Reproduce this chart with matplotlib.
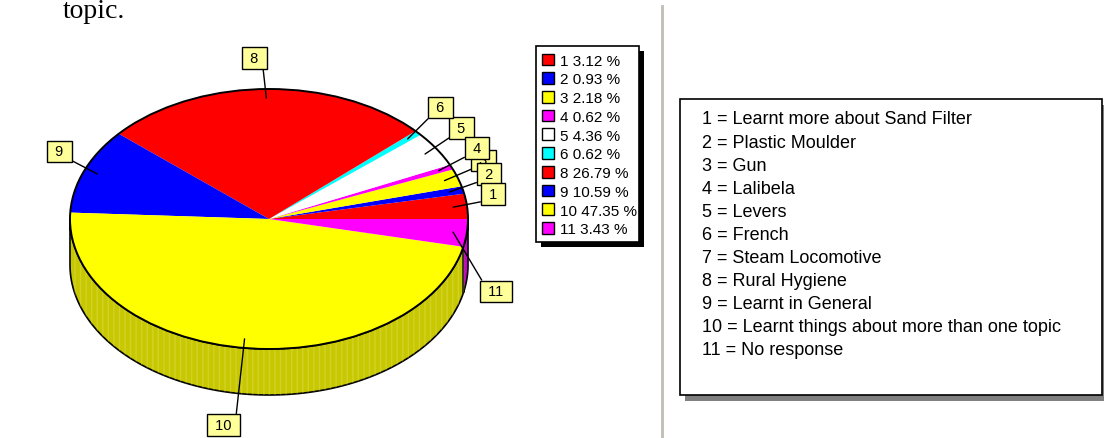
import matplotlib
matplotlib.use("Agg")
import matplotlib.pyplot as plt
from matplotlib.patches import Patch, Rectangle, Circle, Polygon
import numpy as np

# ---------------- data ----------------
codes = ["1", "2", "3", "4", "5", "6", "8", "9", "10", "11"]
percent = [3.12, 0.93, 2.18, 0.62, 4.36, 0.62, 26.79, 10.59, 47.35, 3.43]
colors = ["#ff0000", "#0000ff", "#ffff00", "#ff00ff", "#ffffff",
          "#00ffff", "#ff0000", "#0000ff", "#ffff00", "#ff00ff"]
side_colors = ["#cc0000", "#0000cc", "#cccc00", "#cc00cc", "#cccccc",
               "#00cccc", "#cc0000", "#0000cc", "#c8c800", "#cc00cc"]
key_lines = [
    "1 = Learnt more about Sand Filter",
    "2 = Plastic Moulder",
    "3 = Gun",
    "4 = Lalibela",
    "5 = Levers",
    "6 = French",
    "7 = Steam Locomotive",
    "8 = Rural Hygiene",
    "9 = Learnt in General",
    "10 = Learnt things about more than one topic",
    "11 = No response",
]
caption = "topic."

# ---------------- layout helpers ----------------
W, H = 1104, 439
fig = plt.figure(figsize=(W / 100, H / 100), dpi=100)
SANS = "Liberation Sans"


def fx(px):
    return px / W


def fy(py):  # py measured from top
    return 1 - py / H


# pie axes (pixel frame 0..530 wide, full height)
ax = fig.add_axes([0, 0, 530 / W, 1])
cx, cy, ra, rb = 269, 220, 199, 130
depth = 46 / rb

wedges, _ = ax.pie(percent, colors=colors, startangle=0, counterclock=True,
                   radius=1, wedgeprops=dict(linewidth=0, antialiased=True))
for w in wedges:
    w.set_zorder(3)
ax.set_aspect("auto")
ax.set_xlim((0 - cx) / ra, (530 - cx) / ra)
ax.set_ylim((cy - H) / rb, cy / rb)
ax.axis("off")

# side (3D rim) for the front half
for w, sc in zip(wedges, side_colors):
    t1, t2 = max(w.theta1, 180), min(w.theta2, 360)
    if t2 <= t1:
        continue
    t = np.radians(np.linspace(t1, t2, 120))
    top = np.column_stack([np.cos(t), np.sin(t)])
    bot = np.column_stack([np.cos(t[::-1]), np.sin(t[::-1]) - depth])
    ax.add_patch(Polygon(np.vstack([top, bot]), closed=True, facecolor=sc,
                         edgecolor="black", lw=1.2, zorder=1))
    ax.add_patch(Polygon(np.vstack([top, bot]), closed=True, facecolor="none",
                         edgecolor="#e6e68a", lw=0, hatch="|||", zorder=1.5,
                         alpha=0.3))

ax.add_patch(Circle((0, 0), 1, fill=False, edgecolor="black", lw=1.4, zorder=4))

# boxed slice labels: centre (pixel, from top), relpos, zorder
label_pos = {
    "8": ((254.5, 59), (1, 0), 6),
    "6": ((440.5, 108.5), (0, 0), 6),
    "5": ((461.5, 129), (0, 0), 6),
    "4": ((477, 149), (0, 0), 7),
    "3": ((483.5, 161.5), (0, 0), 6.5),
    "2": ((489, 175), (0, 0), 7.5),
    "1": ((493, 195), (0, 0), 8),
    "11": ((496, 292.5), (0, 1), 6),
    "9": ((59.5, 152.5), (1, 0), 6),
    "10": ((223.5, 426), (1, 1), 6),
}
r_anchor = 0.93
for w, code in zip(wedges, codes):
    (px, py), rel, z = label_pos[code]
    mid = np.radians((w.theta1 + w.theta2) / 2)
    ax.annotate(" " + code + " ", xy=(r_anchor * np.cos(mid), r_anchor * np.sin(mid)),
                xytext=(px, H - py), textcoords="figure pixels",
                ha="center", va="center", fontsize=10.5, family=SANS,
                bbox=dict(boxstyle="square,pad=0.27", fc="#ffff99", ec="black", lw=1),
                arrowprops=dict(arrowstyle="-", color="black", lw=1,
                                shrinkA=0, shrinkB=0, relpos=rel),
                zorder=z, annotation_clip=False)

# ---------------- legend box ----------------
lx0, ly0, lx1, ly1 = 536, 47, 639, 243
fig.add_artist(Rectangle((fx(lx0 + 5), fy(ly1 + 5)), fx(lx1 - lx0), (ly1 - ly0) / H,
                         transform=fig.transFigure, facecolor="black",
                         edgecolor="none", zorder=1))
fig.add_artist(Rectangle((fx(lx0), fy(ly1)), fx(lx1 - lx0), (ly1 - ly0) / H,
                         transform=fig.transFigure, facecolor="white",
                         edgecolor="black", lw=1.2, zorder=2))
handles = [Patch(facecolor=c, edgecolor="black", lw=1) for c in colors]
labels = [f"{c} {p:.2f} %" for c, p in zip(codes, percent)]
leg = fig.legend(handles, labels, loc="upper left",
                 bbox_to_anchor=(fx(542), fy(54.5)), frameon=False,
                 prop=dict(family=SANS, size=11), borderpad=0, borderaxespad=0,
                 handlelength=0.8, handleheight=0.8, handletextpad=0.35,
                 labelspacing=0.3)
leg.set_zorder(3)

# ---------------- key box ----------------
kx0, ky0, kx1, ky1 = 680, 100, 1102, 396
fig.add_artist(Rectangle((fx(kx0 + 5), fy(ky1 + 6)), fx(kx1 - kx0), (ky1 - ky0) / H,
                         transform=fig.transFigure, facecolor="#808080",
                         edgecolor="none", zorder=1))
fig.add_artist(Rectangle((fx(kx0), fy(ky1)), fx(kx1 - kx0), (ky1 - ky0) / H,
                         transform=fig.transFigure, facecolor="white",
                         edgecolor="black", lw=1.2, zorder=2))
for i, line in enumerate(key_lines):
    fig.text(fx(702), fy(120 + i * 23.1), line, ha="left", va="center",
             fontsize=13, family=SANS, zorder=3)

# divider line
fig.add_artist(plt.Line2D([fx(662), fx(662)], [fy(7), 0], transform=fig.transFigure,
                          color="#c0bdb5", lw=2))

# caption fragment
fig.text(fx(63), fy(18), caption, ha="left", va="baseline", fontsize=20,
         family="Liberation Serif")

fig.savefig("out.png", dpi=100)
